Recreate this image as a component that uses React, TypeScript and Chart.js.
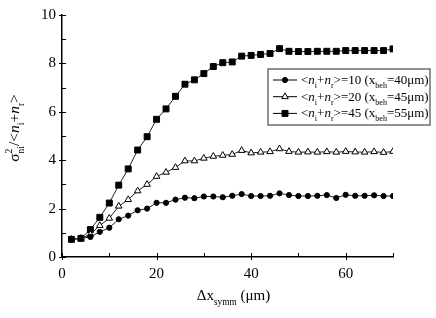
import React, { useEffect, useRef } from "react";
import { Chart, registerables } from "chart.js";

Chart.register(...registerables);

const xValues = [2, 4, 6, 8, 10, 12, 14, 16, 18, 20, 22, 24, 26, 28, 30, 32, 34, 36, 38, 40, 42, 44, 46, 48, 50, 52, 54, 56, 58, 60, 62, 64, 66, 68, 70];

const series10 = [0.73, 0.77, 0.83, 1.04, 1.21, 1.56, 1.71, 1.93, 2.0, 2.24, 2.24, 2.37, 2.45, 2.43, 2.5, 2.5, 2.47, 2.53, 2.6, 2.52, 2.52, 2.53, 2.63, 2.56, 2.52, 2.52, 2.53, 2.56, 2.44, 2.57, 2.53, 2.53, 2.55, 2.52, 2.52];

const series20 = [0.73, 0.77, 0.93, 1.3, 1.6, 2.1, 2.37, 2.73, 3.0, 3.33, 3.5, 3.7, 3.97, 3.97, 4.08, 4.16, 4.2, 4.24, 4.4, 4.3, 4.33, 4.35, 4.47, 4.36, 4.33, 4.34, 4.33, 4.35, 4.33, 4.36, 4.34, 4.33, 4.35, 4.32, 4.36];

const series45 = [0.73, 0.77, 1.13, 1.64, 2.23, 2.97, 3.64, 4.42, 4.97, 5.69, 6.12, 6.64, 7.14, 7.32, 7.58, 7.87, 8.03, 8.06, 8.3, 8.33, 8.37, 8.41, 8.61, 8.5, 8.49, 8.49, 8.5, 8.5, 8.5, 8.53, 8.53, 8.53, 8.53, 8.53, 8.6];

const legendValues = ["10", "20", "45"];
const legendWidths = ["40", "45", "55"];

const X_MIN = 0;
const X_MAX = 70;
const Y_MIN = 0;
const Y_MAX = 10;

const FONT = "'Liberation Serif', 'Times New Roman', serif";

type Seg = { t: string; sub?: boolean; sup?: boolean; italic?: boolean; stack?: [string, string] };

function segFont(size: number, italic?: boolean) {
  return `${italic ? "italic " : ""}${size}px ${FONT}`;
}

function measureRich(ctx: CanvasRenderingContext2D, segs: Seg[], size: number) {
  let w = 0;
  for (const s of segs) {
    if (s.stack) {
      ctx.font = segFont(size * 0.62);
      w += Math.max(ctx.measureText(s.stack[0]).width, ctx.measureText(s.stack[1]).width);
    } else {
      const sz = s.sub || s.sup ? size * 0.62 : size;
      ctx.font = segFont(sz, s.italic);
      w += ctx.measureText(s.t).width;
    }
  }
  return w;
}

function drawRich(ctx: CanvasRenderingContext2D, segs: Seg[], x: number, y: number, size: number) {
  let cx = x;
  ctx.textBaseline = "alphabetic";
  ctx.textAlign = "left";
  for (const s of segs) {
    if (s.stack) {
      const small = size * 0.62;
      ctx.font = segFont(small);
      ctx.fillText(s.stack[0], cx, y - size * 0.42);
      ctx.fillText(s.stack[1], cx, y + size * 0.3);
      cx += Math.max(ctx.measureText(s.stack[0]).width, ctx.measureText(s.stack[1]).width);
    } else if (s.sub || s.sup) {
      const small = size * 0.62;
      ctx.font = segFont(small, s.italic);
      ctx.fillText(s.t, cx, y + (s.sub ? size * 0.3 : -size * 0.42));
      cx += ctx.measureText(s.t).width;
    } else {
      ctx.font = segFont(size, s.italic);
      ctx.fillText(s.t, cx, y);
      cx += ctx.measureText(s.t).width;
    }
  }
}

function drawMarker(ctx: CanvasRenderingContext2D, style: string, x: number, y: number, r: number) {
  ctx.beginPath();
  if (style === "circle") {
    ctx.arc(x, y, r, 0, Math.PI * 2);
  } else if (style === "triangle") {
    ctx.moveTo(x, y - r);
    ctx.lineTo(x + r * 0.866, y + r * 0.5);
    ctx.lineTo(x - r * 0.866, y + r * 0.5);
    ctx.closePath();
  } else {
    const s = Math.SQRT1_2 * r;
    ctx.rect(x - s, y - s, 2 * s, 2 * s);
  }
  ctx.fill();
  ctx.stroke();
}

const decorPlugin = {
  id: "decor",
  afterDraw(chart: any) {
    const ctx: CanvasRenderingContext2D = chart.ctx;
    const xs = chart.scales.x;
    const ys = chart.scales.y;
    const area = chart.chartArea;
    ctx.save();
    ctx.strokeStyle = "#000";
    ctx.lineWidth = 1;
    for (let v = Y_MIN; v <= Y_MAX; v += 1) {
      const py = Math.round(ys.getPixelForValue(v)) + 0.5;
      ctx.beginPath();
      ctx.moveTo(area.left, py);
      ctx.lineTo(area.left + 4, py);
      if (v % 2 === 0) {
        ctx.moveTo(area.left - 3, py);
        ctx.lineTo(area.left, py);
      }
      ctx.stroke();
    }
    for (let v = X_MIN; v <= X_MAX; v += 10) {
      const px = Math.round(xs.getPixelForValue(v)) + 0.5;
      ctx.beginPath();
      ctx.moveTo(px, area.bottom);
      ctx.lineTo(px, area.bottom - 4);
      if (v % 20 === 0) {
        ctx.moveTo(px, area.bottom);
        ctx.lineTo(px, area.bottom + 3);
      }
      ctx.stroke();
    }

    ctx.fillStyle = "#000";
    const xt: Seg[] = [
      { t: "Δx" },
      { t: "symm", sub: true },
      { t: " (μm)" },
    ];
    const xw = measureRich(ctx, xt, 15);
    drawRich(ctx, xt, (area.left + area.right) / 2 - xw / 2 + 6, 300, 15);

    const yt: Seg[] = [
      { t: "σ" },
      { t: "", stack: ["2", "ni"] },
      { t: "/<" },
      { t: "n", italic: true },
      { t: "i", sub: true },
      { t: "+" },
      { t: "n", italic: true },
      { t: "r", sub: true },
      { t: ">" },
    ];
    ctx.save();
    ctx.translate(19, 128);
    ctx.rotate(-Math.PI / 2);
    const yw = measureRich(ctx, yt, 15.5);
    drawRich(ctx, yt, -yw / 2, 0, 15.5);
    ctx.restore();

    const lx = 268, ly = 69, lw = 162, lh = 56;
    ctx.strokeStyle = "#6e6e6e";
    ctx.lineWidth = 1.5;
    ctx.strokeRect(lx, ly, lw, lh);
    const styles = chart.data.datasets;
    for (let i = 0; i < 3; i++) {
      const cy = ly + 11 + i * 16.7;
      const ds = styles[i];
      ctx.strokeStyle = "#000";
      ctx.lineWidth = 1;
      ctx.beginPath();
      ctx.moveTo(lx + 5, cy);
      ctx.lineTo(lx + 29, cy);
      ctx.stroke();
      ctx.fillStyle = ds.pointBackgroundColor;
      ctx.strokeStyle = ds.pointBorderColor;
      drawMarker(ctx, ds.pointStyle, lx + 17, cy, ds.pointRadius);
      ctx.fillStyle = "#000";
      const segs: Seg[] = [
        { t: "<" },
        { t: "n", italic: true },
        { t: "i", sub: true },
        { t: "+" },
        { t: "n", italic: true },
        { t: "r", sub: true },
        { t: ">=" + legendValues[i] + " (x" },
        { t: "beh", sub: true },
        { t: "=" + legendWidths[i] + "μm)" },
      ];
      drawRich(ctx, segs, lx + 33, cy + 4, 13);
    }
    ctx.restore();
  },
};

export default function App() {
  const canvasRef = useRef<HTMLCanvasElement | null>(null);

  useEffect(() => {
    if (!canvasRef.current) return;
    const mk = (vals: number[]) => xValues.map((x, i) => ({ x, y: vals[i] }));
    const chart = new Chart(canvasRef.current, {
      type: "line",
      data: {
        datasets: [
          {
            label: "10",
            data: mk(series10),
            borderColor: "#222",
            borderWidth: 1,
            pointStyle: "circle",
            pointRadius: 2.6,
            pointBackgroundColor: "#000",
            pointBorderColor: "#000",
            pointBorderWidth: 1,
            tension: 0,
          },
          {
            label: "20",
            data: mk(series20),
            borderColor: "#222",
            borderWidth: 1,
            pointStyle: "triangle",
            pointRadius: 3.8,
            pointBackgroundColor: "#fff",
            pointBorderColor: "#000",
            pointBorderWidth: 1,
            tension: 0,
          },
          {
            label: "45",
            data: mk(series45),
            borderColor: "#222",
            borderWidth: 1,
            pointStyle: "rect",
            pointRadius: 4.2,
            pointBackgroundColor: "#000",
            pointBorderColor: "#000",
            pointBorderWidth: 1,
            tension: 0,
          },
        ],
      },
      options: {
        animation: false,
        responsive: false,
        maintainAspectRatio: false,
        layout: { padding: { left: 0, top: 12, right: 43, bottom: 0 } },
        plugins: {
          legend: { display: false },
          tooltip: { enabled: false },
        },
        scales: {
          x: {
            type: "linear",
            min: X_MIN,
            max: X_MAX,
            grid: { display: false, drawTicks: false },
            border: { display: true, color: "#000", width: 1.5 },
            ticks: {
              stepSize: 20,
              includeBounds: false,
              padding: 8,
              color: "#000",
              font: { family: FONT, size: 15 },
              maxRotation: 0,
            },
            afterFit: (s: any) => {
              s.height = 61;
            },
          },
          y: {
            type: "linear",
            min: Y_MIN,
            max: Y_MAX,
            grid: { display: false, drawTicks: false },
            border: { display: true, color: "#000", width: 1.5 },
            ticks: {
              stepSize: 2,
              padding: 6,
              color: "#000",
              font: { family: FONT, size: 15 },
            },
            afterFit: (s: any) => {
              s.width = 62;
            },
          },
        },
      },
      plugins: [decorPlugin],
    });
    return () => chart.destroy();
  }, []);

  return (
    <div style={{ position: "fixed", left: 0, top: 0, width: 436, height: 318, background: "#fff" }}>
      <canvas ref={canvasRef} width={436} height={318} style={{ width: 436, height: 318, display: "block" }} />
    </div>
  );
}
